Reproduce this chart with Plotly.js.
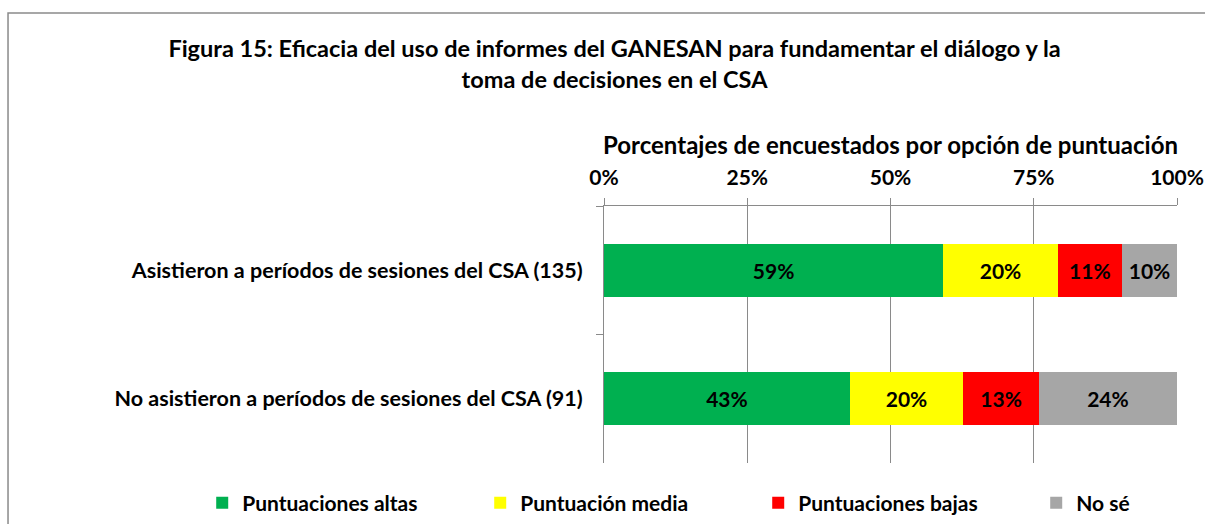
<!DOCTYPE html>
<html><head><meta charset="utf-8">
<script src="https://cdn.plot.ly/plotly-3.0.1.min.js"></script>
<style>body{margin:0;background:#fff}#c{width:1205px;height:524px}</style>
</head><body><div id="c"></div>
<script>
const categories = ["Asistieron a períodos de sesiones del CSA (135)", "No asistieron a períodos de sesiones del CSA (91)"];
const seriesNames = ["Puntuaciones altas", "Puntuación media", "Puntuaciones bajas", "No sé"];
const altas = [59.2, 42.9];
const media = [20.0, 19.8];
const bajas = [11.2, 13.2];
const nose = [9.6, 24.1];
const colors = ["#00b050", "#ffff00", "#ff0000", "#a6a6a6"];
const tickVals = [0, 25, 50, 75, 100];
const tickText = ["0%", "25%", "50%", "75%", "100%"];

const FONT = "Lato, 'Open Sans', sans-serif";
const seriesVals = [altas, media, bajas, nose];
const traces = seriesVals.map((v, i) => ({
  type: 'bar', orientation: 'h', name: seriesNames[i],
  x: v, y: categories,
  marker: {color: colors[i], line: {width: 0}},
  texttemplate: '%{x:.0f}%', textposition: 'inside', insidetextanchor: 'middle',
  textfont: {family: FONT, size: 21, color: '#000', weight: 'bold'},
  hoverinfo: 'skip'
}));

const layout = {
  width: 1205, height: 524,
  margin: {l: 604, r: 28, t: 206, b: 61, autoexpand: false},
  barmode: 'stack', bargap: 0.59,
  paper_bgcolor: '#fff', plot_bgcolor: '#fff',
  font: {family: FONT, size: 21, color: '#000', weight: 'bold'},
  title: {text: 'Figura 15: Eficacia del uso de informes del GANESAN para fundamentar el diálogo y la<br>toma de decisiones en el CSA',
    font: {family: FONT, size: 23.5, color: '#000', weight: 'bold'},
    x: 0.51, xanchor: 'center', xref: 'container', y: 0.891, yanchor: 'top', yref: 'container'},
  xaxis: {side: 'top', range: [0, 100], tickvals: tickVals, ticktext: tickText,
    showgrid: true, gridcolor: '#8a8a8a', gridwidth: 1,
    showline: true, linecolor: '#8a8a8a', linewidth: 1,
    ticks: 'outside', ticklen: 7, tickcolor: '#8a8a8a',
    tickfont: {family: FONT, size: 21, weight: 'bold'}, ticklabelstandoff: 5,
    zeroline: false, fixedrange: true,
    title: {text: 'Porcentajes de encuestados por opción de puntuación', font: {family: FONT, size: 24, weight: 'bold'}, standoff: 2}},
  yaxis: {type: 'category', autorange: 'reversed',
    showline: true, linecolor: '#8a8a8a', linewidth: 1,
    ticks: 'outside', ticklen: 7, tickcolor: '#8a8a8a', tickson: 'boundaries',
    showgrid: false, tickfont: {family: FONT, size: 21.5, weight: 'bold'}, ticklabelstandoff: 16, fixedrange: true},
  legend: {orientation: 'h', xref: 'paper', yref: 'paper', x: -0.7012, xanchor: 'left', y: -0.156, yanchor: 'middle',
    entrywidth: 233, entrywidthmode: 'pixels', traceorder: 'normal',
    font: {family: FONT, size: 21, weight: 'bold'}, itemclick: false},
  shapes: [{type: 'rect', xref: 'paper', yref: 'paper', x0: -1.0401, x1: 1.2, y0: -1, y1: 1.751,
    line: {color: '#8a8a8a', width: 1.5}, fillcolor: 'rgba(0,0,0,0)', layer: 'below'}],
  showlegend: true
};
Plotly.newPlot('c', traces, layout, {displayModeBar: false, staticPlot: true});
</script></body></html>
